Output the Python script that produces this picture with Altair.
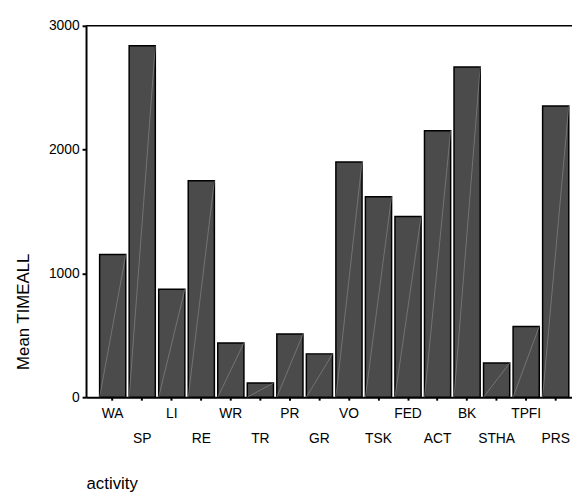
import json
import altair as alt
import pandas as pd

activities = ["WA", "SP", "LI", "RE", "WR", "TR", "PR", "GR",
              "VO", "TSK", "FED", "ACT", "BK", "STHA", "TPFI", "PRS"]
mean_timeall = [1152, 2838, 872, 1748, 438, 114, 510, 350,
                1900, 1620, 1460, 2152, 2667, 276, 572, 2352]
y_ticks = [0, 1000, 2000, 3000]
lower_row = activities[1::2]

df = pd.DataFrame({"activity": activities, "mean": mean_timeall})

FONT = "Liberation Sans"
label_expr = ("indexof(" + json.dumps(lower_row) +
              ", datum.label) >= 0 ? ['', datum.label] : datum.label")

x_scale = alt.Scale(range=[0, 502.5], paddingInner=0.114, paddingOuter=0.46)
y_scale = alt.Scale(domain=[0, 3000], nice=False)

x_axis = alt.Axis(
    title="activity", titleAnchor="start", titleAlign="left", titleX=0,
    titleY=92, titleBaseline="alphabetic", titleFontSize=17,
    titleFontWeight="normal", titleFont=FONT, titleColor="black",
    labelFont=FONT, labelFontSize=14, labelAngle=0, labelPadding=7,
    labelLineHeight=25, labelBaseline="top", labelExpr=label_expr,
    labelOverlap=False, labelColor="black",
    tickSize=3, tickWidth=2, tickColor="black",
    domainColor="black", domainWidth=2, grid=False,
)
y_axis = alt.Axis(
    values=y_ticks, format="d", title="Mean TIMEALL", titleAngle=270,
    titleX=-63, titleY=289, titleBaseline="middle", titleAlign="center",
    titleFontSize=17, titleFontWeight="normal", titleFont=FONT,
    titleColor="black", labelFont=FONT, labelFontSize=14, labelPadding=3,
    labelColor="black", tickSize=4, tickWidth=2, tickColor="black",
    domainColor="black", domainWidth=2, grid=False,
)

base = alt.Chart(df)

bars = base.mark_bar(fill="#4b4b4b", stroke="black", strokeWidth=1.5).encode(
    x=alt.X("activity:N", sort=activities, scale=x_scale, axis=x_axis),
    y=alt.Y("mean:Q", scale=y_scale, axis=y_axis),
)

diag = base.transform_calculate(zero="0").mark_rule(
    color="#8e8e8e", strokeWidth=0.6
).encode(
    x=alt.X("activity:N", sort=activities, bandPosition=0),
    x2=alt.X2("activity", bandPosition=1),
    y=alt.Y("zero:Q"),
    y2=alt.Y2("mean"),
)

top_line = alt.Chart(pd.DataFrame({"top": [3000]})).mark_rule(
    color="black", strokeWidth=1.5
).encode(
    y=alt.Y("top:Q"),
)

chart = alt.layer(bars, diag, top_line).properties(
    width=492, height=376,
    autosize=alt.AutoSizeParams(type="none"),
    padding={"left": 79, "top": 15, "right": 0, "bottom": 97},
    background="white",
).configure_view(stroke=None)

chart.save("out.html", embed_options={"renderer": "svg", "actions": False})
